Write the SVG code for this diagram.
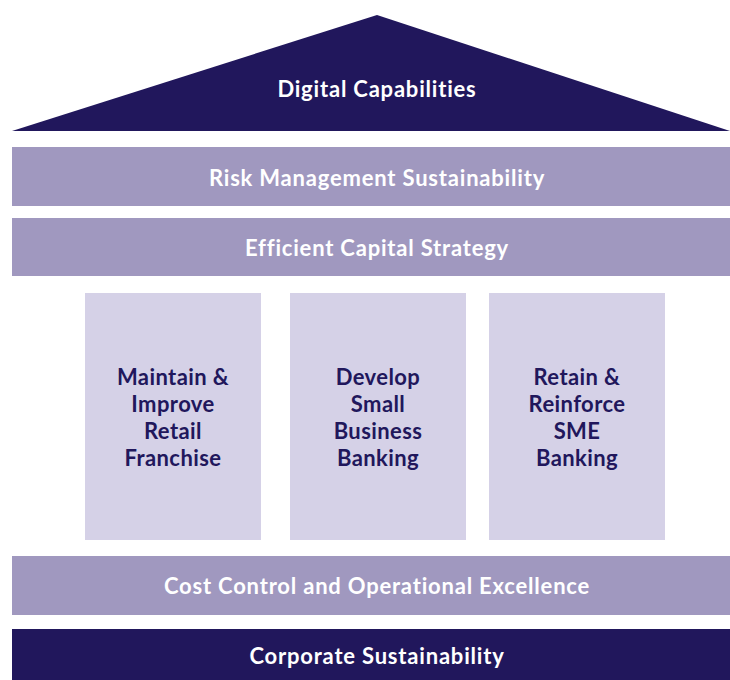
<svg xmlns="http://www.w3.org/2000/svg" width="730" height="680" viewBox="0 0 730 680">
<style>
.dark{fill:#21175c}
.mid{fill:#a098bf}
.light{fill:#d5d1e7}
text{font-family:Lato,"Open Sans",sans-serif;font-weight:700;font-size:22px;text-anchor:middle;letter-spacing:0.8px}
.w{fill:#ffffff}
.d{fill:#21175c;letter-spacing:0.4px}
</style>
<rect width="730" height="680" fill="#ffffff"/>
<g id="roof">
<polygon class="dark" points="12,131 377,15 730,131"/>
<text class="w" x="377" y="97">Digital Capabilities</text>
</g>
<g id="risk">
<rect class="mid" x="12" y="147" width="718" height="59"/>
<text class="w" x="377" y="186">Risk Management Sustainability</text>
</g>
<g id="capital">
<rect class="mid" x="12" y="218" width="718" height="58"/>
<text class="w" x="377" y="256">Efficient Capital Strategy</text>
</g>
<g id="pillar1">
<rect class="light" x="85" y="293" width="176" height="247"/>
<text class="d" x="173" y="385">Maintain &amp;</text>
<text class="d" x="173" y="412">Improve</text>
<text class="d" x="173" y="439">Retail</text>
<text class="d" x="173" y="466">Franchise</text>
</g>
<g id="pillar2">
<rect class="light" x="290" y="293" width="176" height="247"/>
<text class="d" x="378" y="385">Develop</text>
<text class="d" x="378" y="412">Small</text>
<text class="d" x="378" y="439">Business</text>
<text class="d" x="378" y="466">Banking</text>
</g>
<g id="pillar3">
<rect class="light" x="489" y="293" width="176" height="247"/>
<text class="d" x="577" y="385">Retain &amp;</text>
<text class="d" x="577" y="412">Reinforce</text>
<text class="d" x="577" y="439">SME</text>
<text class="d" x="577" y="466">Banking</text>
</g>
<g id="cost">
<rect class="mid" x="12" y="556" width="718" height="59"/>
<text class="w" x="377" y="594">Cost Control and Operational Excellence</text>
</g>
<g id="corporate">
<rect class="dark" x="12" y="629" width="718" height="51"/>
<text class="w" x="377" y="664">Corporate Sustainability</text>
</g>
<g id="connectors"/>
</svg>
